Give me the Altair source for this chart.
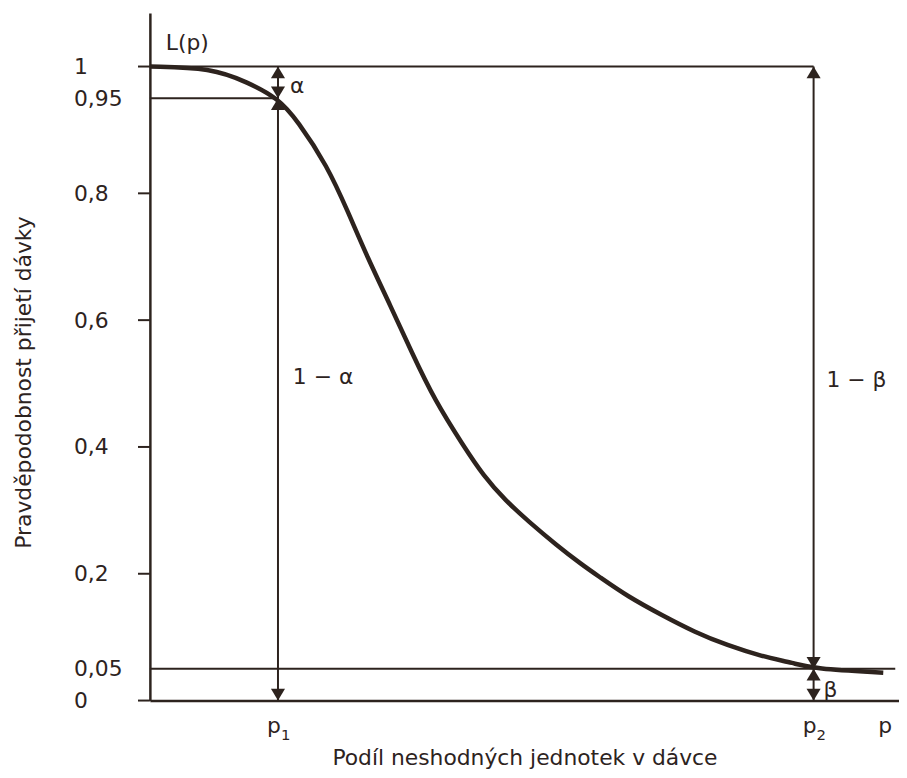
import altair as alt
import pandas as pd

# ---- values ----
p_values = [0.0, 0.082, 0.131, 0.171, 0.197, 0.237, 0.264, 0.290, 0.321, 0.350,
            0.380, 0.419, 0.445, 0.475, 0.506, 0.542, 0.577, 0.599, 0.638, 0.683,
            0.727, 0.771, 0.816, 0.860, 0.886, 0.979]
L_values = [1.000, 0.998, 0.975, 0.950, 0.915, 0.843, 0.772, 0.700, 0.623, 0.548,
            0.474, 0.401, 0.355, 0.315, 0.282, 0.246, 0.214, 0.196, 0.164, 0.135,
            0.108, 0.087, 0.070, 0.059, 0.050, 0.044]
p1 = 0.171
p2 = 0.886
p_label_pos = 0.987
line_end = 0.995
alpha = 0.05
beta = 0.05
y_label_values = [0, 0.05, 0.2, 0.4, 0.6, 0.8, 0.95, 1]
y_tick_values = [0, 0.2, 0.4, 0.6, 0.8, 1]
x_label_values = [p1, p2, p_label_pos]
x_label_subs = ["1", "2", ""]

INK = "#2d231e"
FONT = "DejaVu Sans"

xs = alt.Scale(domain=[0, 1], nice=False, zero=False)
ys = alt.Scale(domain=[0, 1.0845], nice=False, zero=False)

curve_df = pd.DataFrame({"p": p_values, "L": L_values})

x_axis = alt.Axis(
    labels=False, ticks=False, grid=False, domain=True, domainColor=INK, domainWidth=2.5,
    title="Podíl neshodných jednotek v dávce", titleFont=FONT, titleFontSize=22,
    titleFontWeight="normal", titleColor=INK, titleY=64, titleBaseline="alphabetic",
)
y_axis = alt.Axis(
    values=y_label_values,
    labelExpr="replace(format(datum.value, '.2~f'), '.', ',')",
    ticks=False, grid=False, domain=True, domainColor=INK, domainWidth=2.5,
    labelFont=FONT, labelFontSize=22, labelColor=INK, labelPadding=77,
    labelAlign="left", labelBaseline="middle", labelFlush=False, labelOverlap=False,
    title="Pravděpodobnost přijetí dávky", titleFont=FONT, titleFontSize=22,
    titleFontWeight="normal", titleColor=INK, titleAngle=270, titleX=-127, titleY=372,
    titleAlign="center", titleBaseline="middle",
)

curve = alt.Chart(curve_df).mark_line(
    color=INK, strokeWidth=4.5, interpolate="basis"
).encode(
    x=alt.X("p:Q", scale=xs, axis=x_axis),
    y=alt.Y("L:Q", scale=ys, axis=y_axis),
)

# y-axis tick marks
ticks_df = pd.DataFrame({"y": y_tick_values})
yticks = alt.Chart(ticks_df).mark_rule(color=INK, strokeWidth=2).encode(
    y=alt.Y("y:Q", scale=ys),
    x=alt.value(-12),
    x2=alt.value(0),
)

# horizontal reference lines
h_df = pd.DataFrame({
    "y": [1.0, 1 - alpha, beta],
    "x0": [0.0, 0.0, 0.0],
    "x1": [p2, p1, line_end],
})
hlines = alt.Chart(h_df).mark_rule(color=INK, strokeWidth=2).encode(
    x=alt.X("x0:Q", scale=xs), x2="x1:Q", y=alt.Y("y:Q", scale=ys)
)

# vertical dimension lines
v_df = pd.DataFrame({
    "x": [p1, p1, p2, p2],
    "y0": [1 - alpha, 0.0, beta, 0.0],
    "y1": [1.0, 1 - alpha, 1.0, beta],
})
vlines = alt.Chart(v_df).mark_rule(color=INK, strokeWidth=2).encode(
    x=alt.X("x:Q", scale=xs), y=alt.Y("y0:Q", scale=ys), y2="y1:Q"
)

UP = "M0,0 L-0.6,1 L0.6,1 Z"
DOWN = "M0,0 L-0.6,-1 L0.6,-1 Z"
up_arrows = alt.Chart(v_df).mark_point(
    shape=UP, filled=True, size=560, color=INK, opacity=1, strokeWidth=0
).encode(x=alt.X("x:Q", scale=xs), y=alt.Y("y1:Q", scale=ys))
down_arrows = alt.Chart(v_df).mark_point(
    shape=DOWN, filled=True, size=560, color=INK, opacity=1, strokeWidth=0
).encode(x=alt.X("x:Q", scale=xs), y=alt.Y("y0:Q", scale=ys))

# x-axis labels p1, p2, p drawn as text with real subscripts
xl_df = pd.DataFrame({"x": x_label_values, "sub": x_label_subs})
xlab_p = alt.Chart(xl_df).mark_text(
    align="center", baseline="alphabetic", dx=-4, font=FONT, fontSize=22, color=INK
).encode(x=alt.X("x:Q", scale=xs), y=alt.value(726), text=alt.value("p"))
xlab_sub = alt.Chart(xl_df).mark_text(
    align="left", baseline="alphabetic", dx=3, font=FONT, fontSize=15, color=INK
).encode(x=alt.X("x:Q", scale=xs), y=alt.value(733), text="sub:N")


def label(text, x, y, dx=0, dy=0, size=22):
    return alt.Chart(pd.DataFrame({"t": [text]})).mark_text(
        align="left", baseline="middle", dx=dx, dy=dy,
        font=FONT, fontSize=size, color=INK
    ).encode(x=alt.datum(x), y=alt.datum(y), text="t:N")


labels = [
    label("L(p)", 0.0, 1.0376, dx=16),
    label("α", p1, 1 - alpha / 2, dx=12, dy=4),
    label("1 − α", p1, 0.51, dx=15),
    label("1 − β", p2, 0.5055, dx=13),
    label("β", p2, beta / 2, dx=10, dy=5),
]

chart = alt.layer(
    hlines, vlines, yticks, curve, up_arrows, down_arrows, xlab_p, xlab_sub, *labels
).properties(
    width=755,
    height=693,
    autosize=alt.AutoSizeParams(type="none"),
    padding={"left": 143, "top": 2, "right": 0, "bottom": 68},
).configure_view(stroke=None)

chart.save("out.html", embed_options={"renderer": "svg", "actions": False})
